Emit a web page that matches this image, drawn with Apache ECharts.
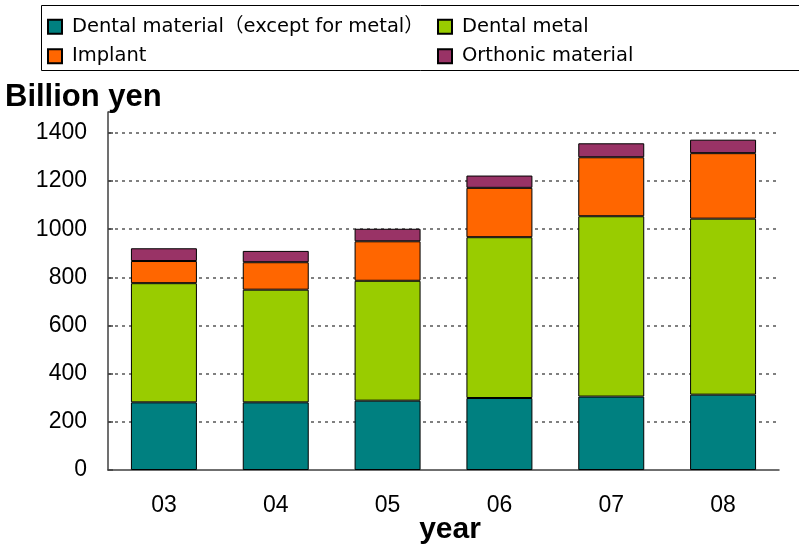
<!DOCTYPE html>
<html>
<head>
<meta charset="utf-8">
<script src="https://cdn.jsdelivr.net/npm/echarts@6/dist/echarts.min.js"></script>
<style>
html,body{margin:0;padding:0;background:#fff;}
#chart{width:799px;height:549px;}
</style>
</head>
<body>
<div id="chart"></div>
<script>
// ---- data ----
const years = ['03', '04', '05', '06', '07', '08'];
const dentalMaterial = [281, 281, 288, 299, 305, 313];
const dentalMetal = [495, 468, 498, 668, 749, 731];
const implant = [92, 114, 164, 205, 245, 272];
const orthonic = [53, 47, 52, 51, 58, 56];
const yTicks = [0, 200, 400, 600, 800, 1000, 1200, 1400];
const seriesNames = ['Dental material\uFF08except for metal\uFF09', 'Dental metal', 'Implant', 'Orthonic material'];
const colors = ['#008080', '#99CC00', '#FF6600', '#993366'];

const chart = echarts.init(document.getElementById('chart'), null, {renderer: 'canvas'});
const values = [dentalMaterial, dentalMetal, implant, orthonic];

const legendFont = {fontFamily: '"DejaVu Sans", "Noto Sans CJK JP", sans-serif', fontSize: 19.5, color: '#000', padding: [0, 0, 0, 5]};

chart.setOption({
  animation: false,
  backgroundColor: '#fff',
  color: colors,
  title: {
    text: 'Billion yen',
    left: 5,
    top: 82,
    padding: 0,
    textStyle: {fontFamily: '"Liberation Sans", Arial, sans-serif', fontSize: 31, fontWeight: 'bold', color: '#000'}
  },
  graphic: [{
    type: 'rect',
    shape: {x: 41.5, y: 5.5, width: 800, height: 65},
    style: {fill: 'none', stroke: '#000', lineWidth: 1},
    silent: true
  }],
  legend: [{
    data: [seriesNames[0], seriesNames[2]],
    orient: 'vertical',
    left: 47, top: 17,
    padding: 0,
    icon: 'rect',
    itemWidth: 14, itemHeight: 14,
    itemGap: 10,
    textStyle: legendFont
  }, {
    data: [seriesNames[1], seriesNames[3]],
    orient: 'vertical',
    left: 437, top: 17,
    padding: 0,
    icon: 'rect',
    itemWidth: 14, itemHeight: 14,
    itemGap: 10,
    textStyle: legendFont
  }],
  grid: {left: 108, right: 20, top: 112, bottom: 79, containLabel: false, outerBoundsMode: 'none'},
  xAxis: {
    type: 'category',
    data: years,
    name: 'year',
    nameLocation: 'middle',
    nameGap: 45,
    nameMoveOverlap: false,
    nameTextStyle: {fontFamily: '"Liberation Sans", Arial, sans-serif', fontSize: 30, fontWeight: 'bold', color: '#000', padding: [0, 0, 0, 13]},
    axisLine: {lineStyle: {color: '#404040', width: 1.5}},
    axisTick: {inside: true, length: 8, lineStyle: {color: '#404040', width: 1.5}},
    axisLabel: {fontFamily: '"Liberation Sans", Arial, sans-serif', fontSize: 23, color: '#000', margin: 24}
  },
  yAxis: {
    type: 'value',
    min: 0,
    max: 1487,
    interval: 200,
    axisLine: {show: true, lineStyle: {color: '#404040', width: 1.5}},
    axisTick: {show: true, inside: true, length: 5, lineStyle: {color: '#404040', width: 1.5}},
    axisLabel: {
      fontFamily: '"Liberation Sans", Arial, sans-serif', fontSize: 23, color: '#000', margin: 21,
      formatter: v => (yTicks.indexOf(v) >= 0 ? String(v) : '')
    },
    splitLine: {show: true, showMinLine: false, showMaxLine: false, lineStyle: {color: '#808080', width: 2, type: [3, 4]}}
  },
  series: seriesNames.map((n, i) => ({
    name: n,
    type: 'bar',
    stack: 'total',
    barWidth: '59%',
    data: values[i],
    itemStyle: {color: colors[i], borderColor: '#000', borderWidth: 1}
  }))
});
</script>
</body>
</html>
